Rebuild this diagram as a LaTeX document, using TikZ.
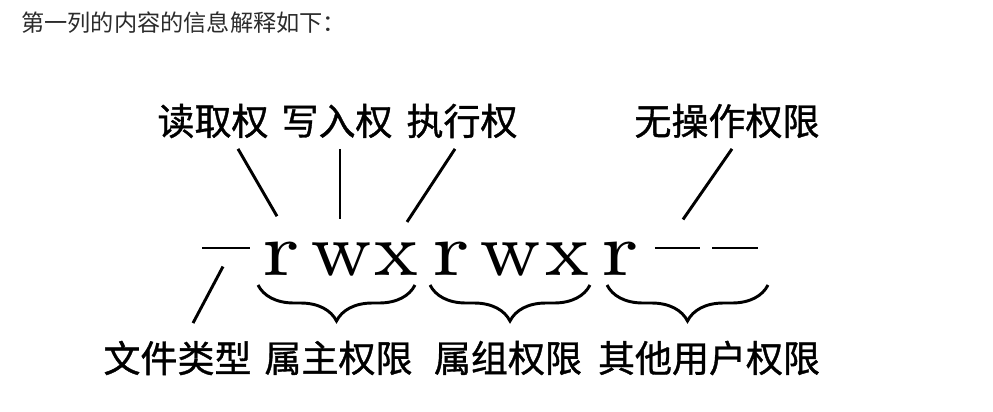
\documentclass[tikz,border=0pt]{standalone}
\usepackage{fontspec}
\newfontfamily\cjk{Noto Sans CJK SC}
\newfontfamily\cjklabel[FakeBold=1]{Noto Sans CJK SC}
\newfontfamily\permfont{lmroman7-regular.otf}
\usetikzlibrary{calc,decorations.pathreplacing}
\definecolor{titlegray}{HTML}{2B2B2B}
\newcommand{\wider}[1]{\scalebox{1.15}[1]{#1}}

\begin{document}
\begin{tikzpicture}[x=0.75pt, y=-0.75pt,
    permlabel/.style={inner sep=0pt, font=\cjklabel\fontsize{27.75}{30}\selectfont},
    letter/.style={inner sep=0pt, anchor=base, font=\permfont\fontsize{57}{64}\selectfont},
    dashbar/.style={inner sep=0pt},
    pointer/.style={line width=2.2pt},
    bracket/.style={line width=2.2pt, decorate, decoration={brace, mirror, amplitude=27pt}}]
    %%%%% START %%%%%
    \useasboundingbox (0,0) rectangle (993,411);

    \node[anchor=west, inner sep=0pt, text=titlegray, font=\cjk\fontsize{17.4}{20}\selectfont] (title) at (21,23) {第一列的内容的信息解释如下：};

    \node[permlabel] (read) at (213,121) {读取权};
    \node[permlabel] (write) at (337,121) {写入权};
    \node[permlabel] (exec) at (462,121) {执行权};
    \node[permlabel] (none) at (727,121) {无操作权限};

    \node[dashbar] (d0) at (226,248) {\rule{36pt}{1.9pt}};
    \node[letter] (r1) at (281,275) {\wider{r}};
    \node[letter] (w1) at (342,275) {w};
    \node[letter] (x1) at (396,275) {x};
    \node[letter] (r2) at (451,275) {\wider{r}};
    \node[letter] (w2) at (511,275) {w};
    \node[letter] (x2) at (567,275) {x};
    \node[letter] (r3) at (620,275) {\wider{r}};
    \node[dashbar] (d1) at (677.5,248) {\rule{34pt}{1.9pt}};
    \node[dashbar] (d2) at (735,248) {\rule{34pt}{1.9pt}};

    \node[permlabel] (type) at (177.5,358) {文件类型};
    \node[permlabel] (owner) at (338.5,358) {属主权限};
    \node[permlabel] (group) at (508,358) {属组权限};
    \node[permlabel] (other) at (709,358) {其他用户权限};

    \draw[pointer] ($(read.south)+(25,10.5)$) -- ($(r1.north)+(-4,-25)$);
    \draw[pointer] ($(write.south)+(3,10.5)$) -- ($(w1.north)+(-2,-23)$);
    \draw[pointer] ($(exec.south)+(-7,10.5)$) -- ($(x1.north)+(11,-20)$);
    \draw[pointer] ($(none.south)+(5,10.5)$) -- ($(d1.north)+(5.5,-27)$);
    \draw[pointer] ($(d0.south)+(-3,17)$) -- ($(type.north)+(15.5,-17.5)$);

    \draw[bracket] (258,285) -- (415,285);
    \draw[bracket] (430,285) -- (590,285);
    \draw[bracket] (607,285) -- (768,285);
    %%%%% END %%%%%
\end{tikzpicture}
\end{document}
